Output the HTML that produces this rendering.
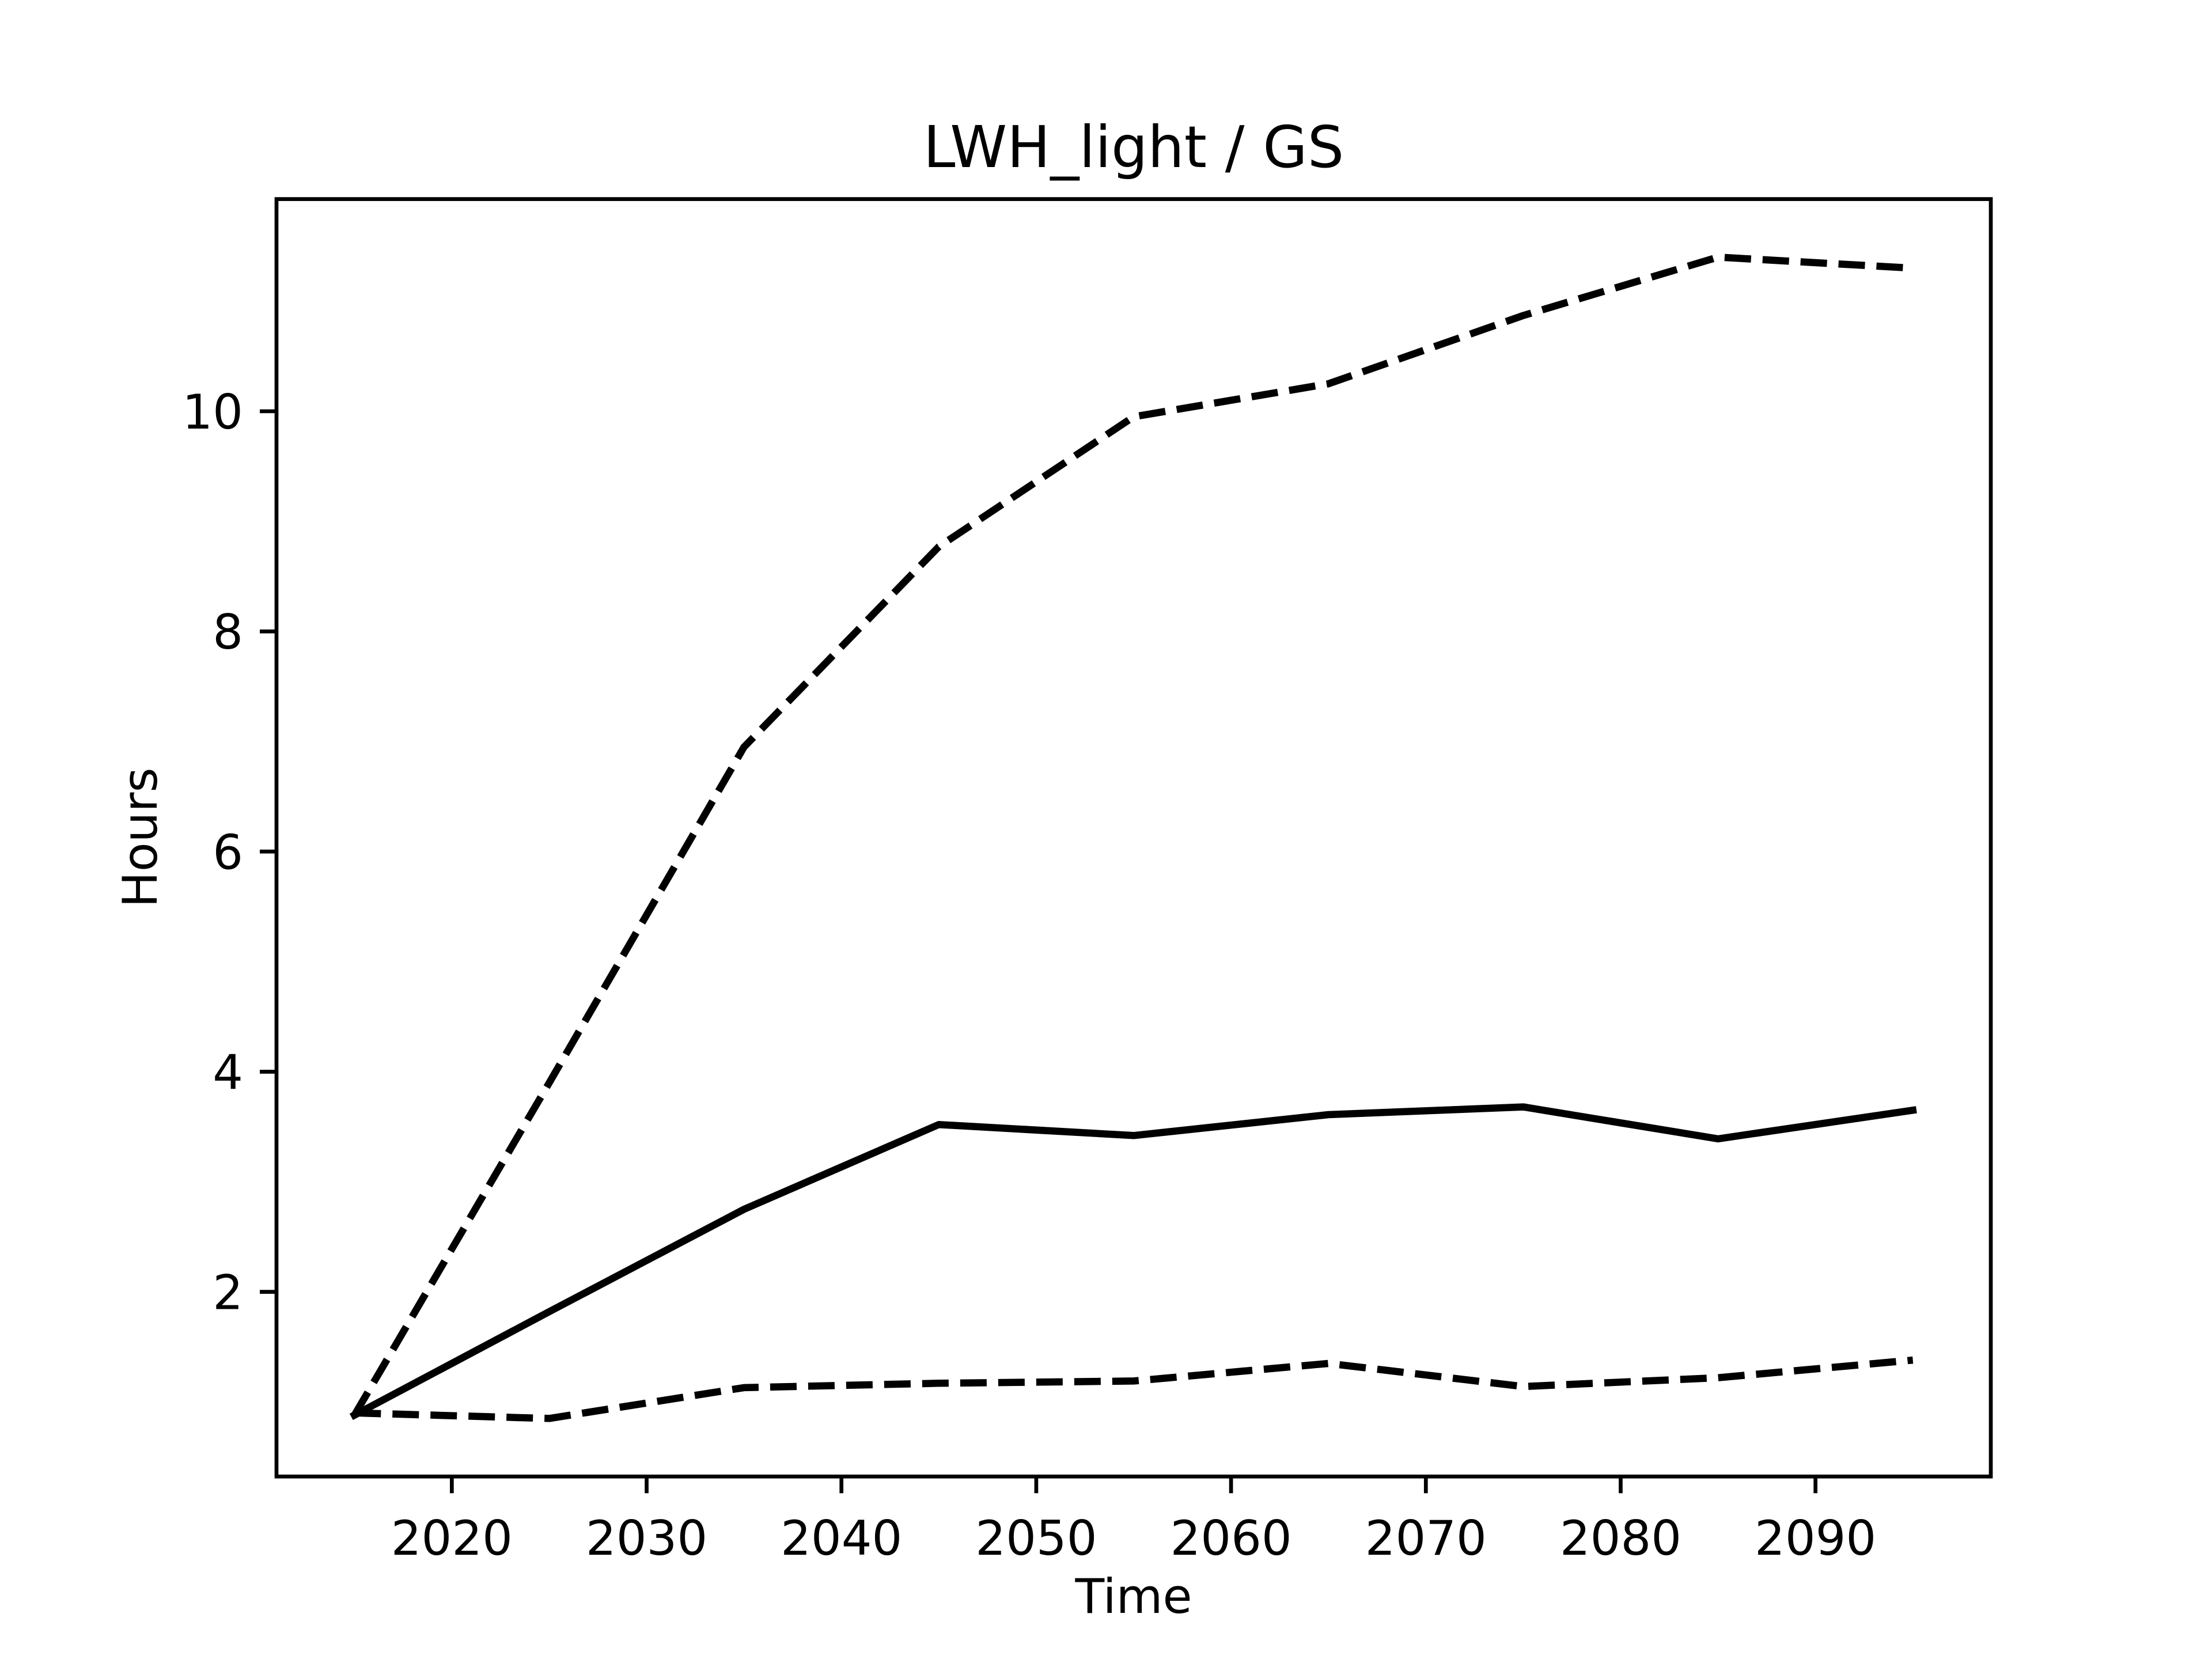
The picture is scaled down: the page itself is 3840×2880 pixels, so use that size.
<!DOCTYPE html>
<html><head><meta charset="utf-8"><style>
html,body{margin:0;padding:0;background:#fff}
svg{display:block;font-family:"DejaVu Sans","Liberation Sans",sans-serif}
</style></head><body>
<svg id="chart" width="3840" height="2880" viewBox="0 0 3840 2880" xmlns="http://www.w3.org/2000/svg">
<rect width="3840" height="2880" fill="#fff"/>
<text x="1968" y="290" font-size="100" text-anchor="middle">LWH_light / GS</text>
<g id="plot"></g>
<text x="1968" y="2800" font-size="83" text-anchor="middle">Time</text>
<text x="272" y="1454" font-size="83" text-anchor="middle" transform="rotate(-90 272 1454)">Hours</text>
</svg>
<script>
const years = [2015,2025,2035,2045,2055,2065,2075,2085,2095];
const upperValues = [0.88,3.9,6.95,8.77,9.95,10.25,10.87,11.4,11.3];
const medianValues = [0.88,1.82,2.75,3.52,3.42,3.61,3.68,3.39,3.65];
const lowerValues = [0.9,0.85,1.13,1.17,1.19,1.35,1.14,1.22,1.38];
const xTicks = [2020,2030,2040,2050,2060,2070,2080,2090];
const yTicks = [2,4,6,8,10];

const NS="http://www.w3.org/2000/svg";
const L=480,R=3456,T=345.6,B=2563.2;
const xmin0=Math.min(...years),xmax0=Math.max(...years);
const xpad=(xmax0-xmin0)*0.05;
const xmin=xmin0-xpad,xmax=xmax0+xpad;
const all=upperValues.concat(medianValues,lowerValues);
const ymin0=Math.min(...all),ymax0=Math.max(...all);
const ypad=(ymax0-ymin0)*0.05;
const ymin=ymin0-ypad,ymax=ymax0+ypad;
const xs=v=>L+(v-xmin)/(xmax-xmin)*(R-L);
const ys=v=>B-(v-ymin)/(ymax-ymin)*(B-T);
const g=document.getElementById('plot');
function mk(tag,attrs){const e=document.createElementNS(NS,tag);for(const k in attrs)e.setAttribute(k,attrs[k]);g.appendChild(e);return e;}

function series(vals,dashed,name){
  const d=years.map((y,i)=>(i?'L':'M')+xs(y).toFixed(1)+','+ys(vals[i]).toFixed(1)).join(' ');
  const p=mk('path',{d:d,fill:'none',stroke:'#000','stroke-width':12.5,'stroke-linejoin':'round','stroke-linecap':dashed?'butt':'square'});
  if(dashed)p.setAttribute('stroke-dasharray','46 20');
  
  
}
series(upperValues,true,'upper-bound-line');
series(medianValues,false,'median-line');
series(lowerValues,true,'lower-bound-line');

xTicks.forEach(t=>{
  const x=xs(t);
  const tk=mk('line',{x1:x,x2:x,y1:B,y2:B+29,stroke:'#000','stroke-width':6.7});
  
  
  const tx=mk('text',{x:x,y:B+29+29+78,'font-size':83,'text-anchor':'middle'});
  tx.textContent=t;
  
  
});
yTicks.forEach(t=>{
  const y=ys(t);
  const tk=mk('line',{x1:L-29,x2:L,y1:y,y2:y,stroke:'#000','stroke-width':6.7});
  
  
  const tx=mk('text',{x:L-29-29,y:y+30,'font-size':83,'text-anchor':'end'});
  tx.textContent=t;
  
  
});
const frame=mk('rect',{x:L,y:T,width:R-L,height:B-T,fill:'none',stroke:'#000','stroke-width':6.7});


</script>
</body></html>
